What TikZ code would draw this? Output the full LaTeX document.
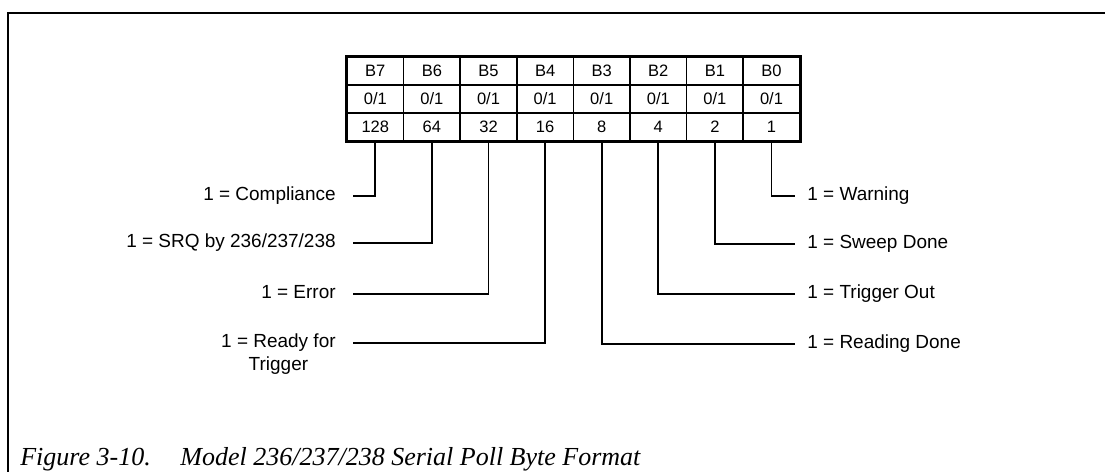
\documentclass[tikz,border=0pt]{standalone}
\usepackage{fontspec}
\setmainfont{Liberation Sans}
\newfontfamily\capfont{Liberation Serif}
\tikzset{
  cell/.style={draw, line width=0.9pt, minimum width=1.132cm, minimum height=0.56cm,
    inner sep=0pt, font=\fontsize{9.4}{10}\selectfont},
  wire/.style={line width=1.1pt},
  lblleft/.style={anchor=mid east, inner xsep=0.34cm, inner ysep=0pt, align=center,
    font=\fontsize{10.8}{13}\selectfont},
  lblright/.style={anchor=mid west, inner xsep=0.24cm, inner ysep=0pt,
    font=\fontsize{10.8}{13}\selectfont},
  captext/.style={anchor=base west, inner sep=0pt,
    font=\capfont\itshape\fontsize{14.8}{17}\selectfont}
}
\begin{document}
\begin{tikzpicture}[x=0.02cm,y=-0.02cm]
  \useasboundingbox (0,0) rectangle (1105,472);
  % frame
  \draw[line width=1.1pt] (8,472) -- (8,13) -- (1105,13);
  % byte table
  \foreach \i/\w in {7/128,6/64,5/32,4/16,3/8,2/4,1/2,0/1} {
    \node[cell] (b\i) at ({347+(7-\i)*56.6+28.3},71) {B\i};
    \node[cell] (v\i) at ({347+(7-\i)*56.6+28.3},99) {0/1};
    \node[cell] (w\i) at ({347+(7-\i)*56.6+28.3},127) {\w};
  }
  \draw[line width=1.3pt] (b7.north west) rectangle (w0.south east);
  % bit meanings
  \node[lblleft] (l7) at (353,196) {1 = Compliance};
  \node[lblleft] (l6) at (353,243) {1 = SRQ by 236/237/238};
  \node[lblleft] (l5) at (353,294) {1 = Error};
  \node[lblleft] (l4) at (353,366) {1 = Ready for\\Trigger};
  \node[lblright] (l0) at (795,196) {1 = Warning};
  \node[lblright] (l1) at (795,244) {1 = Sweep Done};
  \node[lblright] (l2) at (795,294) {1 = Trigger Out};
  \node[lblright] (l3) at (795,344) {1 = Reading Done};
  \foreach \i in {5,6,7}
    \draw[wire] (w\i.south) |- (l\i.mid east);
  \draw[wire] (w4.south) |- ([yshift=13pt]l4.mid east);
  \foreach \i in {0,...,3}
    \draw[wire] (w\i.south) |- (l\i.mid west);
  % caption
  \node[captext] (fig) at (20,465) {Figure 3-10.};
  \node[captext] (cap) at (180,465) {Model 236/237/238 Serial Poll Byte Format};
\end{tikzpicture}
\end{document}
